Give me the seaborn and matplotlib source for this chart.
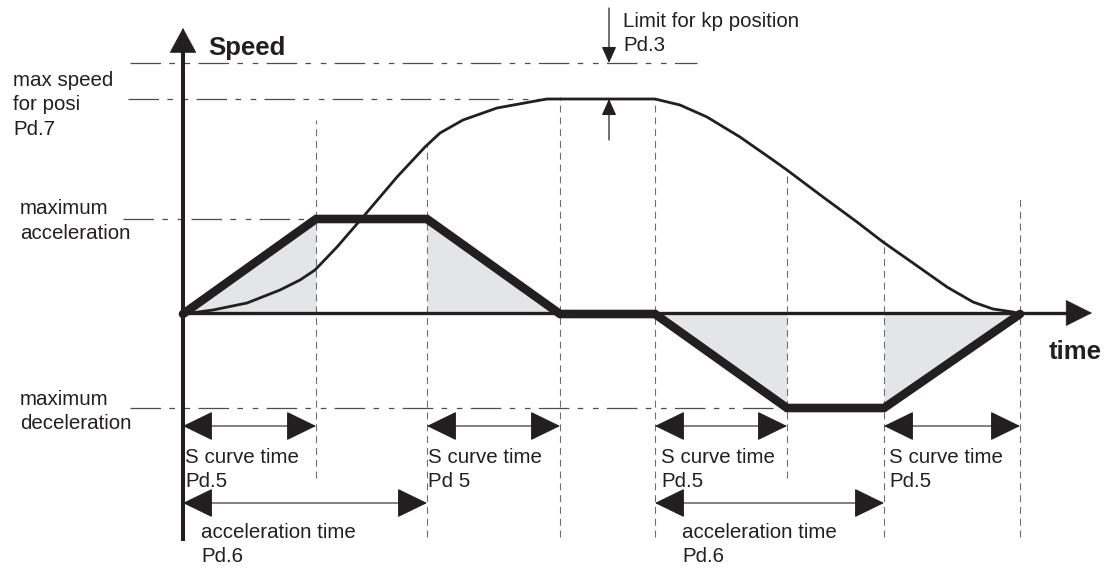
import matplotlib
matplotlib.use("Agg")
import matplotlib.pyplot as plt
from matplotlib.patches import ArrowStyle
import pandas as pd
import seaborn as sns

# Motion profile phases: time stamps where the acceleration profile changes slope
phase_t = [0, 13.3, 24.4, 37.7, 47.2, 60.4, 70.1, 83.7]
accel = [0, 9.5, 9.5, 0, 0, -9.4, -9.4, 0]

# Resulting speed curve (S-shaped ramps up and down)
speed_t = [0, 3.0, 6.4, 9.7, 11.7, 13.2, 15.4, 18.0, 21.4, 24.2, 25.7, 28.0,
           31.4, 34.7, 36.4, 47.2, 49.7, 52.4, 55.7, 59.0, 60.4, 64.0, 67.4,
           70.0, 73.0, 76.4, 79.0, 81.0, 83.0, 83.7]
speed_v = [0, 0.4, 1.1, 2.4, 3.4, 4.4, 6.7, 9.7, 13.7, 16.7, 18.1, 19.4,
           20.6, 21.2, 21.5, 21.5, 20.9, 19.7, 17.7, 15.4, 14.4, 11.7, 9.2,
           7.2, 5.1, 2.7, 1.2, 0.5, 0.2, 0]

# Reference levels
v_max = 21.5       # max speed for posi (Pd.7)
kp_limit = 25.1    # limit for kp position (Pd.3)
a_max = 9.5        # maximum acceleration
a_min = -9.4       # maximum deceleration

INK = "#231f20"
GUIDE = "#4d4d4f"
SHADE = "#e4e5e7"

sns.set_theme(style="white")
plt.rcParams["font.family"] = ["Liberation Sans", "DejaVu Sans"]
plt.rcParams["lines.scale_dashes"] = False

fig = plt.figure(figsize=(11.17, 5.69), dpi=100)
ax = fig.add_axes([0, 0, 1, 1])
ax.set_xlim(-18.3, 93.4)
ax.set_ylim(-25.5, 31.4)
ax.axis("off")


def arrow(start, end, style, lw, z=4):
    ax.annotate("", xy=end, xytext=start,
                arrowprops=dict(arrowstyle=style, color=INK, lw=lw, shrinkA=0,
                                shrinkB=0, mutation_scale=1),
                zorder=z)


# Shaded S-curve ramps under the acceleration profile
for i in (0, 2, 4, 6):
    ax.fill_between(phase_t[i:i + 2], accel[i:i + 2], 0, color=SHADE, lw=0, zorder=1)

# Horizontal guide lines (long-short-short dash)
hdash = (0, (22, 6, 4, 7, 4, 6))
ax.plot([-5.3, 51.4], [kp_limit, kp_limit], color=GUIDE, lw=0.9, ls=hdash, zorder=2)
ax.plot([-5.5, 36.4], [v_max, v_max], color=GUIDE, lw=0.9, ls=hdash, zorder=2)
ax.plot([-6.0, phase_t[1]], [a_max, a_max], color=GUIDE, lw=0.9, ls=hdash, zorder=2)
ax.plot([-5.3, phase_t[5]], [a_min, a_min], color=GUIDE, lw=0.9, ls=hdash, zorder=2)

# Vertical guide lines at each phase boundary
vtop = [19.4, 16.9, 21.7, 21.5, 14.4, 7.4, 11.9]
vbot = [-16.4, -22.3, -22.3, -22.3, -16.4, -22.3, -22.3]
for t, top, bot in zip(phase_t[1:], vtop, vbot):
    ax.plot([t, t], [bot, top], color="#6d6e70", lw=0.8, ls=(0, (5, 3.5)), zorder=2)

# Axes with arrow heads
ax.plot([0, 0], [-22.7, 27.0], color=INK, lw=2.9, solid_capstyle="butt", zorder=4)
arrow((0, 26.0), (0, 28.6), ArrowStyle("-|>", head_length=17, head_width=9.2), 0.5)
ax.plot([0, 88.6], [0.1, 0.1], color=INK, lw=2.4, solid_capstyle="butt", zorder=4)
arrow((88.0, 0.1), (90.9, 0.1), ArrowStyle("-|>", head_length=18, head_width=9.0), 0.5)

# Acceleration profile (thick) and speed curve
accel_df = pd.DataFrame({"t": phase_t, "a": accel})
sns.lineplot(data=accel_df, x="t", y="a", sort=False, estimator=None, ax=ax,
             color=INK, lw=6.2, zorder=5)
ax.lines[-1].set_solid_joinstyle("miter")
speed_df = pd.DataFrame({"t": speed_t, "v": speed_v})
sns.lineplot(data=speed_df, x="t", y="v", sort=False, estimator=None, ax=ax,
             color=INK, lw=2.0, zorder=6)

# Pd.3 limit arrows
small = ArrowStyle("-|>", head_length=10, head_width=4.5)
arrow((42.6, 30.6), (42.6, kp_limit), small, 0.9)
arrow((42.6, 17.4), (42.6, v_max), small, 0.9)

# Dimension arrows for S curve and acceleration times
dim = ArrowStyle("<|-|>", head_length=19.5, head_width=9.5)
row1, row2 = -11.2, -18.9
spans = [(phase_t[0], phase_t[1], row1), (phase_t[2], phase_t[3], row1),
         (phase_t[4], phase_t[5], row1), (phase_t[6], phase_t[7], row1),
         (phase_t[0], phase_t[2], row2), (phase_t[4], phase_t[6], row2)]
for a, b, y in spans:
    arrow((a, y), (b, y), dim, 0.8, z=7)

# Labels
fs = 14.8
lab = dict(color=INK, fontsize=fs, va="center", ha="left", linespacing=1.34)
ax.text(2.5, 26.6, "Speed", color=INK, fontsize=18.5, fontweight="bold", va="center")
ax.text(86.6, -3.8, "time", color=INK, fontsize=18.5, fontweight="bold", va="center")
ax.text(-17.0, 20.9, "max speed\nfor posi\nPd.7", **lab)
ax.text(44.0, 28.05, "Limit for kp position\nPd.3", **lab)
ax.text(-16.3, 9.3, "maximum\nacceleration", **lab)
ax.text(-16.3, -9.75, "maximum\ndeceleration", **lab)
ax.text(0.2, -15.55, "S curve time\nPd.5", **lab)
ax.text(24.5, -15.55, "S curve time\nPd 5", **lab)
ax.text(1.8, -23.05, "acceleration time\nPd.6", **lab)
ax.text(47.8, -15.55, "S curve time\nPd.5", **lab)
ax.text(49.9, -23.05, "acceleration time\nPd.6", **lab)
ax.text(70.6, -15.55, "S curve time\nPd.5", **lab)

fig.savefig("out.png", dpi=100, facecolor="white")
